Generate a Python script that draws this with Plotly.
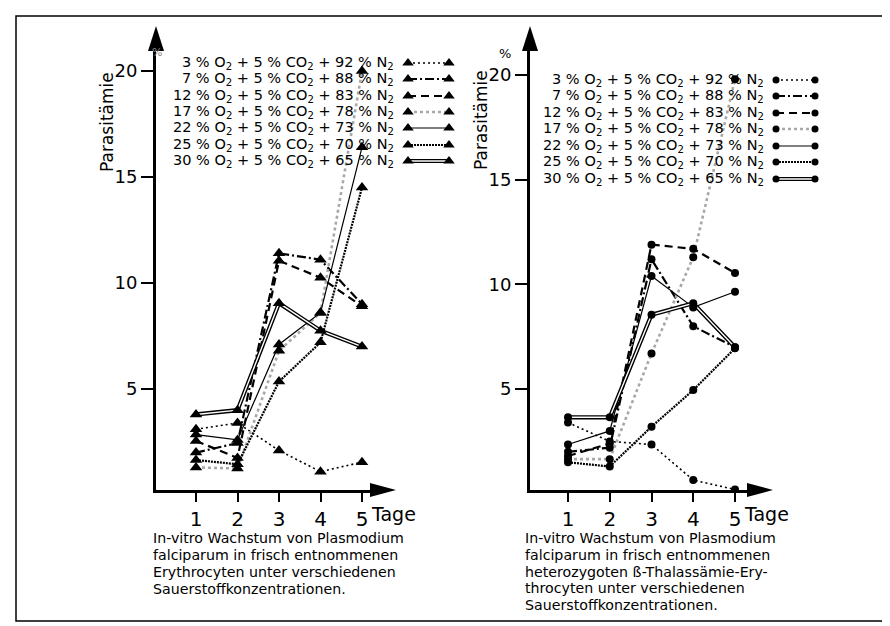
import plotly.graph_objects as go

W, H = 890, 626

# ---------------- data ----------------
days = [1, 2, 3, 4, 5]
o2_pct = ["3", "7", "12", "17", "22", "25", "30"]
n2_pct = ["92", "88", "83", "78", "73", "70", "65"]
y_ticks = [5, 10, 15, 20]

# left panel: normal erythrocytes (Parasitämie %)
ery_03 = [3.1, 3.4, 2.1, 1.1, 1.55]
ery_07 = [2.0, 2.45, 11.4, 11.1, 9.0]
ery_12 = [2.55, 1.75, 11.05, 10.25, 8.9]
ery_17 = [1.3, 1.25, 6.8, 8.6, 20.0]
ery_22 = [2.85, 2.6, 7.1, 8.6, 16.4]
ery_25 = [1.65, 1.45, 5.35, 7.2, 14.5]
ery_30 = [3.8, 4.0, 9.05, 7.75, 7.0]

# right panel: heterozygous beta-thalassaemia erythrocytes
thal_03 = [3.4, 2.5, 2.35, 0.65, 0.2]
thal_07 = [2.0, 2.2, 11.2, 8.0, 7.0]
thal_12 = [1.8, 2.4, 11.9, 11.7, 10.55]
thal_17 = [1.65, 1.65, 6.7, 11.3, 19.8]
thal_22 = [2.35, 3.0, 10.4, 8.9, 9.65]
thal_25 = [1.5, 1.3, 3.2, 4.95, 6.95]
thal_30 = [3.65, 3.65, 8.55, 9.1, 7.0]

caption_left = ["In-vitro Wachstum von Plasmodium",
                "falciparum in frisch entnommenen",
                "Erythrocyten unter verschiedenen",
                "Sauerstoffkonzentrationen."]
caption_right = ["In-vitro Wachstum von Plasmodium",
                 "falciparum in frisch entnommenen",
                 "heterozygoten ß-Thalassämie-Ery-",
                 "throcyten unter verschiedenen",
                 "Sauerstoffkonzentrationen."]

ery = [ery_03, ery_07, ery_12, ery_17, ery_22, ery_25, ery_30]
thal = [thal_03, thal_07, thal_12, thal_17, thal_22, thal_25, thal_30]

# ---------------- styles ----------------
FONT = "DejaVu Sans"
styles = [
    dict(dash="2px,3px", width=1.6, color="black"),
    dict(dash="9px,3px,2px,3px", width=2.2, color="black"),
    dict(dash="8px,5px", width=2.2, color="black"),
    dict(dash="3px,3px", width=2.6, color="#a8a8a8"),
    dict(dash="solid", width=1.2, color="black"),
    dict(dash="2px,1px", width=2.2, color="black"),
    None,  # double line
]


def fx(p):
    return p / W


def fy(p):
    return 1 - p / H


# panel geometry (pixels)
panels = [
    dict(x0=148, x1=363, d0=146.5, dpx=41.5, ybot=482, ytop=42, v0=487.0, vpx=21.2,
         sym="triangle-up", msize=11, data=ery),
    dict(x0=522, x1=740, d0=518.25, dpx=41.75, ybot=482, ytop=42, v0=485.7, vpx=20.93,
         sym="circle", msize=8, data=thal),
]

fig = go.Figure()
layout_axes = {}
for i, p in enumerate(panels):
    xa = "x" if i == 0 else "x2"
    ya = "y" if i == 0 else "y2"
    xr = [(p["x0"] - p["d0"]) / p["dpx"], (p["x1"] - p["d0"]) / p["dpx"]]
    yr = [(p["v0"] - p["ybot"]) / p["vpx"], (p["v0"] - p["ytop"]) / p["vpx"]]
    suffix = "" if i == 0 else "2"
    layout_axes["xaxis" + suffix] = dict(
        domain=[fx(p["x0"]), fx(p["x1"])], range=xr, anchor=ya,
        showgrid=False, zeroline=False, showline=True, linewidth=3, linecolor="black",
        ticks="outside", ticklen=9, tickwidth=2, tickcolor="black",
        tickvals=days, ticktext=[str(d) for d in days],
        tickfont=dict(family=FONT, size=20, color="black"))
    layout_axes["yaxis" + suffix] = dict(
        domain=[fy(p["ybot"]), fy(p["ytop"])], range=yr, anchor=xa,
        showgrid=False, zeroline=False, showline=True, linewidth=3, linecolor="black",
        ticks="outside", ticklen=12, tickwidth=2, tickcolor="black",
        tickvals=y_ticks, ticktext=[str(t) for t in y_ticks],
        tickfont=dict(family=FONT, size=18, color="black"))

    # lines
    for k, vals in enumerate(p["data"]):
        st = styles[k]
        if st is None:
            fig.add_trace(go.Scatter(x=days, y=vals, mode="lines", xaxis=xa, yaxis=ya,
                                     line=dict(color="black", width=4.2), hoverinfo="skip"))
            fig.add_trace(go.Scatter(x=days, y=vals, mode="lines", xaxis=xa, yaxis=ya,
                                     line=dict(color="white", width=1.4), hoverinfo="skip"))
        else:
            fig.add_trace(go.Scatter(x=days, y=vals, mode="lines", xaxis=xa, yaxis=ya,
                                     line=st, hoverinfo="skip"))
    for k, vals in enumerate(p["data"]):
        fig.add_trace(go.Scatter(x=days, y=vals, mode="markers", xaxis=xa, yaxis=ya,
                                 marker=dict(symbol=p["sym"], size=p["msize"], color="black"),
                                 hoverinfo="skip"))

# overlay pixel axes for decorations (legend samples, arrows, frame)
layout_axes["xaxis3"] = dict(domain=[0, 1], range=[0, W], visible=False, anchor="y3")
layout_axes["yaxis3"] = dict(domain=[0, 1], range=[H, 0], visible=False, anchor="x3")

legend_geo = [
    dict(tx=388, rows=[55, 71, 88, 104, 120, 137, 153], sx=(400, 441), sym="triangle-up", msize=10),
    dict(tx=758, rows=[72, 88, 105, 121, 138, 154, 171], sx=(768, 807), sym="circle", msize=7),
]
annotations = []
for g in legend_geo:
    for k in range(7):
        ry = g["rows"][k]
        st = styles[k]
        xs = list(g["sx"])
        if st is None:
            fig.add_trace(go.Scatter(x=xs, y=[ry, ry], mode="lines", xaxis="x3", yaxis="y3",
                                     line=dict(color="black", width=4.2), hoverinfo="skip"))
            fig.add_trace(go.Scatter(x=xs, y=[ry, ry], mode="lines", xaxis="x3", yaxis="y3",
                                     line=dict(color="white", width=1.4), hoverinfo="skip"))
        else:
            fig.add_trace(go.Scatter(x=xs, y=[ry, ry], mode="lines", xaxis="x3", yaxis="y3",
                                     line=st, hoverinfo="skip"))
        fig.add_trace(go.Scatter(x=xs, y=[ry, ry], mode="markers", xaxis="x3", yaxis="y3",
                                 marker=dict(symbol=g["sym"], size=g["msize"], color="black"),
                                 hoverinfo="skip"))
        txt = f"{o2_pct[k]} % O<sub>2</sub> + 5 % CO<sub>2</sub> + {n2_pct[k]} % N<sub>2</sub>"
        annotations.append(dict(x=fx(g["tx"]), y=fy(ry), xref="paper", yref="paper",
                                text=txt, showarrow=False, xanchor="right", yanchor="middle",
                                font=dict(family=FONT, size=14.5, color="black")))

# captions
for lines, x0, ys in [(caption_left, 143, [530, 547, 564, 581]),
                      (caption_right, 515, [530, 547, 564, 580, 597])]:
    for t, yy in zip(lines, ys):
        annotations.append(dict(x=fx(x0), y=fy(yy), xref="paper", yref="paper", text=t,
                                showarrow=False, xanchor="left", yanchor="middle",
                                font=dict(family=FONT, size=14.2, color="black")))

# axis titles / units
for xx, yy in [(99, 114), (473, 112)]:
    annotations.append(dict(x=fx(xx), y=fy(yy), xref="paper", yref="paper", text="Parasitämie",
                            textangle=-90, showarrow=False, xanchor="center", yanchor="middle",
                            font=dict(family=FONT, size=17, color="black")))
for xx in [361, 734]:
    annotations.append(dict(x=fx(xx), y=fy(506), xref="paper", yref="paper", text="Tage",
                            showarrow=False, xanchor="left", yanchor="middle",
                            font=dict(family=FONT, size=19, color="black")))
annotations.append(dict(x=fx(142), y=fy(36), xref="paper", yref="paper", text="%",
                        showarrow=False, font=dict(family=FONT, size=11, color="#888888")))
annotations.append(dict(x=fx(497), y=fy(36), xref="paper", yref="paper", text="%",
                        showarrow=False, font=dict(family=FONT, size=13, color="black")))

shapes = []
# arrowheads
for p in panels:
    xc = p["x0"]
    shapes.append(dict(type="path", xref="x3", yref="y3", fillcolor="black", line=dict(width=0),
                       path=f"M {xc-8},{p['ytop']+1} L {xc+8},{p['ytop']+1} L {xc},{p['ytop']-24} Z"))
    yc = p["ybot"]
    shapes.append(dict(type="path", xref="x3", yref="y3", fillcolor="black", line=dict(width=0),
                       path=f"M {p['x1']-1},{yc-7} L {p['x1']-1},{yc+7} L {p['x1']+25},{yc} Z"))
# frame
shapes.append(dict(type="rect", xref="x3", yref="y3", x0=8, y0=8, x1=882, y1=613,
                   line=dict(color="black", width=1.5)))

fig.update_layout(
    width=W, height=H, margin=dict(l=0, r=0, t=0, b=0),
    paper_bgcolor="white", plot_bgcolor="rgba(0,0,0,0)",
    showlegend=False, annotations=annotations, shapes=shapes,
    **layout_axes)

fig.write_html("out.html")
